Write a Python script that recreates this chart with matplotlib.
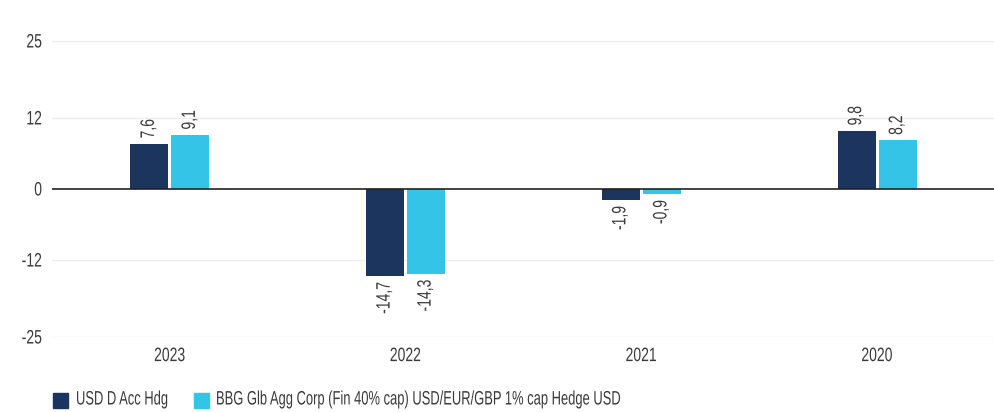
import numpy as np
import matplotlib.pyplot as plt
from matplotlib.font_manager import FontProperties
from matplotlib.patches import Rectangle
from matplotlib.patheffects import AbstractPathEffect
from matplotlib.textpath import TextPath
from matplotlib.transforms import Affine2D

# Chart data
years = ["2023", "2022", "2021", "2020"]
fund = [7.6, -14.7, -1.9, 9.8]
benchmark = [9.1, -14.3, -0.9, 8.2]
series_names = ["USD D Acc Hdg",
                "BBG Glb Agg Corp (Fin 40% cap) USD/EUR/GBP 1% cap Hedge USD"]
yticks = [-25, -12, 0, 12, 25]

dark = "#1b355e"
light = "#33c4e8"
text_col = "#3a3a3a"

plt.rcParams['font.family'] = ['Liberation Sans', 'DejaVu Sans']
fs = 14


class Squeeze(AbstractPathEffect):
    """Draw text narrower along its own direction (the reference uses a condensed face)."""

    def __init__(self, sx, pivot="center"):
        super().__init__()
        self.sx = sx
        self.pivot = pivot

    def draw_path(self, renderer, gc, tpath, affine, rgbFace=None):
        xs = tpath.vertices[:, 0]
        lo, hi = (xs.min(), xs.max()) if len(xs) else (0, 0)
        p = {"left": lo, "center": (lo + hi) / 2, "right": hi}[self.pivot]
        t = Affine2D().translate(-p, 0).scale(self.sx, 1).translate(p, 0) + affine
        renderer.draw_path(gc, tpath, t, rgbFace)


# squeeze factor so the long legend label is about as wide as in the reference
natural = TextPath((0, 0), series_names[1], prop=FontProperties(family="Liberation Sans", size=fs))
natural_px = natural.get_extents().width * 100 / 72
sx = 403 / natural_px
sx_num = sx * 1.08  # digits are a touch wider in the reference face

fig = plt.figure(figsize=(9.95, 4.12), dpi=100)
ax = fig.add_axes([52 / 995, 1 - 337 / 412, (995 - 52) / 995, (337 - 41) / 412])

x = np.arange(len(years))
w = 0.161
off = 0.087
b1 = ax.bar(x - off, fund, width=w, color=dark, zorder=3)
b2 = ax.bar(x + off, benchmark, width=w, color=light, zorder=3)

# value labels, rotated, comma decimal
for bars, vals in [(b1, fund), (b2, benchmark)]:
    for rect, v in zip(bars, vals):
        cx = rect.get_x() + rect.get_width() / 2
        s = f"{v:.1f}".replace(".", ",")
        if v >= 0:
            ax.annotate(s, (cx, v), xytext=(0, 4), textcoords="offset points",
                        rotation=90, ha="center", va="bottom", fontsize=fs, color=text_col,
                        path_effects=[Squeeze(sx_num, "left")])
        else:
            ax.annotate(s, (cx, v), xytext=(0, -4), textcoords="offset points",
                        rotation=90, ha="center", va="top", fontsize=fs, color=text_col,
                        path_effects=[Squeeze(sx_num, "right")])

ax.set_xlim(-0.5, 3.5)
ax.set_ylim(-25, 25)
ax.set_yticks(yticks)
ax.set_yticklabels([str(t) for t in yticks])
ax.set_xticks(x)
ax.set_xticklabels(years)
ax.tick_params(axis="both", length=0, labelsize=fs, labelcolor=text_col)
ax.tick_params(axis="y", pad=7)
ax.tick_params(axis="x", pad=8)
for lab in ax.get_yticklabels():
    lab.set_path_effects([Squeeze(sx_num, "right")])
for lab in ax.get_xticklabels():
    lab.set_path_effects([Squeeze(sx_num, "center")])

for t in yticks:
    if t != 0:
        ax.axhline(t, color="#eeeeee", lw=1, zorder=1)
ax.axhline(0, color="#222222", lw=1.2, zorder=4)

for s in ax.spines.values():
    s.set_visible(False)

# legend drawn by hand so the squeezed labels sit at the right places
W, H = 995, 412
for colour, label, hx, tx in [(dark, series_names[0], 53, 76), (light, series_names[1], 194, 216)]:
    fig.patches.append(Rectangle((hx / W, 1 - 408 / H), 15 / W, 15 / H, color=colour,
                                 transform=fig.transFigure, figure=fig))
    fig.text(tx / W, 1 - 400 / H, label, ha="left", va="center", fontsize=fs, color=text_col,
             path_effects=[Squeeze(sx, "left")])

fig.savefig("out.png", dpi=100)
